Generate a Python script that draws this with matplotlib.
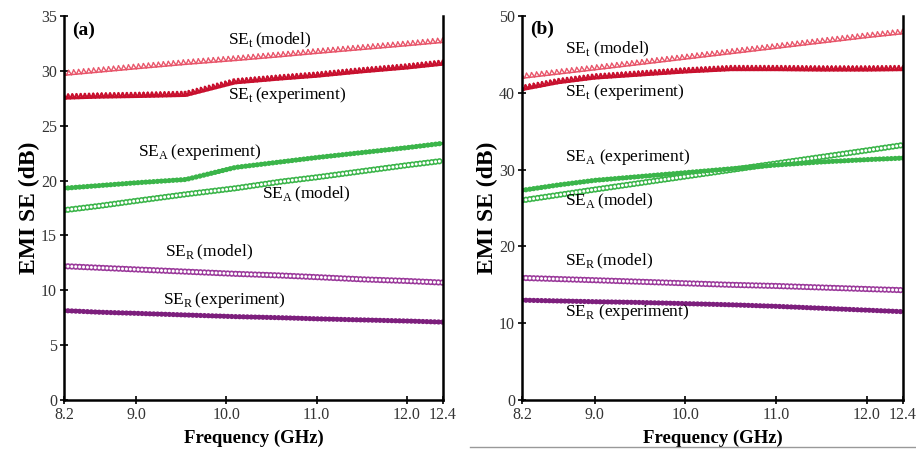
import matplotlib
matplotlib.use("Agg")
import matplotlib.pyplot as plt
from matplotlib import patheffects
from matplotlib.lines import Line2D

plt.rcParams['font.family'] = ['Liberation Serif', 'DejaVu Serif']
plt.rcParams['mathtext.fontset'] = 'custom'
plt.rcParams['mathtext.rm'] = 'Liberation Serif'
plt.rcParams['lines.scale_dashes'] = False

# ---- data ----
freq_a = [8.2, 8.6, 9.0, 9.55, 10.1, 10.6, 11.0, 11.5, 12.0, 12.4]
set_model_a = [29.6, 29.9, 30.2, 30.6, 30.95, 31.3, 31.6, 31.95, 32.3, 32.6]
set_exp_a = [27.5, 27.6, 27.65, 27.75, 28.9, 29.25, 29.5, 29.9, 30.25, 30.6]
sea_exp_a = [19.3, 19.55, 19.8, 20.1, 21.2, 21.7, 22.1, 22.55, 23.0, 23.4]
sea_model_a = [17.3, 17.7, 18.15, 18.75, 19.3, 19.9, 20.3, 20.85, 21.4, 21.8]
ser_model_a = [12.2, 12.05, 11.9, 11.7, 11.5, 11.35, 11.2, 11.0, 10.85, 10.7]
ser_exp_a = [8.15, 8.0, 7.9, 7.75, 7.6, 7.5, 7.4, 7.3, 7.2, 7.1]

freq_b = [8.2, 8.6, 9.0, 9.5, 10.0, 10.5, 11.0, 11.5, 12.0, 12.4]
set_model_b = [41.9, 42.45, 43.0, 43.7, 44.4, 45.1, 45.8, 46.5, 47.2, 47.7]
set_exp_b = [40.4, 41.3, 41.9, 42.3, 42.7, 43.0, 43.0, 42.95, 42.95, 43.0]
sea_exp_b = [27.3, 28.0, 28.6, 29.1, 29.6, 30.1, 30.6, 31.0, 31.3, 31.5]
sea_model_b = [26.0, 26.7, 27.4, 28.25, 29.1, 29.95, 30.8, 31.65, 32.5, 33.2]
ser_model_b = [15.9, 15.75, 15.6, 15.4, 15.2, 15.0, 14.85, 14.65, 14.45, 14.3]
ser_exp_b = [13.0, 12.9, 12.8, 12.7, 12.55, 12.4, 12.2, 11.95, 11.7, 11.5]

xticks = [8.2, 9.0, 10.0, 11.0, 12.0, 12.4]
xticklabels = ['8.2', '9.0', '10.0', '11.0', '12.0', '12.4']

RED_M = '#e8556a'
RED_E = '#c8102e'
GREEN = '#3bb54a'
PURPLE_M = '#9b3a9b'
PURPLE_E = '#7d1f7d'


def tri_line(ax, x, y, color, filled):
    if filled:
        pe = [patheffects.Normal(),
              patheffects.TickedStroke(spacing=3.0, angle=60, length=1.0, linewidth=1.5),
              patheffects.TickedStroke(spacing=3.0, angle=120, length=1.0, linewidth=1.5)]
        ax.plot(x, y, color=color, lw=2.0, path_effects=pe)
    else:
        pe = [patheffects.Normal(),
              patheffects.TickedStroke(spacing=3.6, angle=60, length=1.0, linewidth=1.0),
              patheffects.TickedStroke(spacing=3.6, angle=120, length=1.0, linewidth=1.0)]
        ax.plot(x, y, color=color, lw=1.1, path_effects=pe)


def dot_line(ax, x, y, color, filled):
    dots = (0, (0.01, 2.8))
    if filled:
        ax.plot(x, y, color=color, lw=2.2)
        ax.plot(x, y, color=color, lw=3.8, linestyle=dots, dash_capstyle='round')
    else:
        ax.plot(x, y, color=color, lw=4.6, linestyle=dots, dash_capstyle='round')
        ax.plot(x, y, color='white', lw=2.2, linestyle=dots, dash_capstyle='round')


def style(ax, ymax, ystep):
    ax.set_xlim(8.2, 12.4)
    ax.set_ylim(0, ymax)
    ax.set_xticks(xticks)
    ax.set_xticklabels(xticklabels)
    ax.set_yticks(range(0, ymax + 1, ystep))
    ax.spines['top'].set_visible(False)
    for s in ['left', 'right', 'bottom']:
        ax.spines[s].set_linewidth(1.8)
    ax.tick_params(direction='inout', length=6, width=1.2, labelsize=11.5,
                   labelcolor='#333333', pad=2)
    ax.set_xlabel('Frequency (GHz)', fontsize=13.5, fontweight='bold', labelpad=5)
    ax.set_ylabel('EMI SE (dB)', fontsize=17, fontweight='bold', labelpad=1)


fig = plt.figure(figsize=(9.16, 4.5), dpi=100)
ax1 = fig.add_axes([0.0699, 0.1111, 0.4137, 0.8533])
ax2 = fig.add_axes([0.5699, 0.1111, 0.4159, 0.8533])

# panel (a)
tri_line(ax1, freq_a, set_model_a, RED_M, False)
tri_line(ax1, freq_a, set_exp_a, RED_E, True)
dot_line(ax1, freq_a, sea_exp_a, GREEN, True)
dot_line(ax1, freq_a, sea_model_a, GREEN, False)
dot_line(ax1, freq_a, ser_model_a, PURPLE_M, False)
dot_line(ax1, freq_a, ser_exp_a, PURPLE_E, True)
style(ax1, 35, 5)

fs = 12.5
ax1.text(8.29, 33.7, '(a)', fontsize=14, fontweight='bold', va='center')
ax1.text(10.02, 32.8, r'SE$_\mathregular{t}\,$(model)', fontsize=fs, va='center')
ax1.text(10.02, 27.8, r'SE$_\mathregular{t}\,$(experiment)', fontsize=fs, va='center')
ax1.text(9.02, 22.6, r'SE$_\mathregular{A}\,$(experiment)', fontsize=fs, va='center')
ax1.text(10.39, 18.7, r'SE$_\mathregular{A}\,$(model)', fontsize=fs, va='center')
ax1.text(9.32, 13.5, r'SE$_\mathregular{R}\,$(model)', fontsize=fs, va='center')
ax1.text(9.30, 9.1, r'SE$_\mathregular{R}\,$(experiment)', fontsize=fs, va='center')

# panel (b)
tri_line(ax2, freq_b, set_model_b, RED_M, False)
tri_line(ax2, freq_b, set_exp_b, RED_E, True)
dot_line(ax2, freq_b, sea_model_b, GREEN, False)
dot_line(ax2, freq_b, sea_exp_b, GREEN, True)
dot_line(ax2, freq_b, ser_model_b, PURPLE_M, False)
dot_line(ax2, freq_b, ser_exp_b, PURPLE_E, True)
style(ax2, 50, 10)

ax2.text(8.29, 48.2, '(b)', fontsize=14, fontweight='bold', va='center')
ax2.text(8.67, 45.6, r'SE$_\mathregular{t}$ (model)', fontsize=fs, va='center')
ax2.text(8.67, 40.1, r'SE$_\mathregular{t}$ (experiment)', fontsize=fs, va='center')
ax2.text(8.67, 31.6, r'SE$_\mathregular{A}$ (experiment)', fontsize=fs, va='center')
ax2.text(8.67, 25.8, r'SE$_\mathregular{A}\,$(model)', fontsize=fs, va='center')
ax2.text(8.67, 18.0, r'SE$_\mathregular{R}\,$(model)', fontsize=fs, va='center')
ax2.text(8.67, 11.5, r'SE$_\mathregular{R}$ (experiment)', fontsize=fs, va='center')

# thin grey frame line under panel (b)
fig.add_artist(Line2D([470 / 916, 1.0], [1 - 447 / 450] * 2, color='#999999', lw=1.0))

fig.savefig('out.png', dpi=100)
